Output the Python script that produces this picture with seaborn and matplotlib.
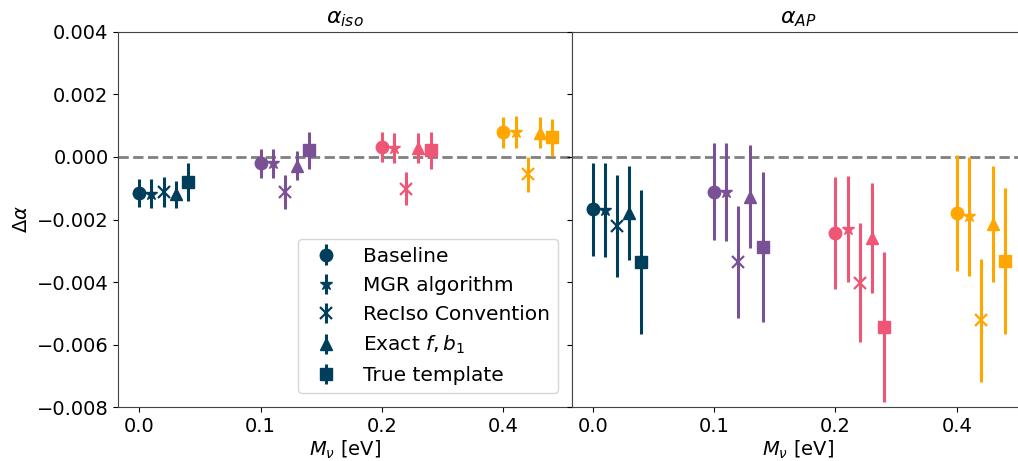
import numpy as np
import matplotlib
matplotlib.use("Agg")
import matplotlib.pyplot as plt
import seaborn as sns

# neutrino masses (tick labels) and the methods compared
masses = ["0.0", "0.1", "0.2", "0.4"]
methods = ["Baseline", "MGR algorithm", "RecIso Convention", r"Exact $f, b_1$", "True template"]
markers = ["o", "*", "x", "^", "s"]
colors = ["#003f5c", "#7a5195", "#ef5675", "#ffa600"]

# alpha_iso shifts (rows: methods, cols: masses)
iso_baseline = [-0.00115, -0.00021, 0.00031, 0.00079]
iso_mgr = [-0.00117, -0.00021, 0.00029, 0.00080]
iso_reciso = [-0.00113, -0.00112, -0.00101, -0.00056]
iso_exact = [-0.00120, -0.00028, 0.00029, 0.00077]
iso_true = [-0.00080, 0.00021, 0.00021, 0.00062]

iso_err_baseline = [0.00045, 0.00047, 0.00048, 0.00050]
iso_err_mgr = [0.00045, 0.00046, 0.00048, 0.00050]
iso_err_reciso = [0.00048, 0.00053, 0.00054, 0.00056]
iso_err_exact = [0.00042, 0.00047, 0.00048, 0.00050]
iso_err_true = [0.00060, 0.00060, 0.00060, 0.00060]

# alpha_AP shifts
ap_baseline = [-0.00168, -0.00111, -0.00243, -0.00180]
ap_mgr = [-0.00171, -0.00113, -0.00230, -0.00190]
ap_reciso = [-0.00221, -0.00336, -0.00402, -0.00522]
ap_exact = [-0.00179, -0.00127, -0.00259, -0.00215]
ap_true = [-0.00336, -0.00288, -0.00544, -0.00333]

ap_err_baseline = [0.00150, 0.00156, 0.00180, 0.00185]
ap_err_mgr = [0.00150, 0.00157, 0.00170, 0.00190]
ap_err_reciso = [0.00164, 0.00178, 0.00190, 0.00197]
ap_err_exact = [0.00150, 0.00164, 0.00175, 0.00185]
ap_err_true = [0.00230, 0.00240, 0.00240, 0.00234]

iso_vals = [iso_baseline, iso_mgr, iso_reciso, iso_exact, iso_true]
iso_errs = [iso_err_baseline, iso_err_mgr, iso_err_reciso, iso_err_exact, iso_err_true]
ap_vals = [ap_baseline, ap_mgr, ap_reciso, ap_exact, ap_true]
ap_errs = [ap_err_baseline, ap_err_mgr, ap_err_reciso, ap_err_exact, ap_err_true]

sns.set_style("ticks")
plt.rcParams["font.family"] = ["DejaVu Sans"]
plt.rcParams["font.size"] = 14
plt.rcParams["text.color"] = "black"
plt.rcParams["axes.labelcolor"] = "black"
plt.rcParams["xtick.color"] = "black"
plt.rcParams["ytick.color"] = "black"

fig = plt.figure(figsize=(10.18, 4.61), dpi=100)
W = 453.4 / 1018
bottom = 1 - 407.3 / 461
height = (407.3 - 31.7) / 461
ax1 = fig.add_axes([118.3 / 1018, bottom, W, height])
ax2 = fig.add_axes([571.7 / 1018, bottom, W, height], sharey=ax1)

pos = np.arange(len(masses)) * 0.1
sizes = {"o": 9, "*": 9, "x": 9, "^": 9, "s": 8.5}
for ax, vals, errs, title in [(ax1, iso_vals, iso_errs, r"$\alpha_{iso}$"),
                              (ax2, ap_vals, ap_errs, r"$\alpha_{AP}$")]:
    ax.axhline(0, color="grey", ls="--", lw=2, zorder=1)
    for j, (v, e, m) in enumerate(zip(vals, errs, markers)):
        for i in range(len(masses)):
            ax.errorbar(pos[i] + 0.01 * j, v[i], yerr=e[i], fmt=m, color=colors[i],
                        ms=sizes[m], mew=1.6 if m == "x" else 1,
                        elinewidth=2.2, capsize=0,
                        label=methods[j] if i == 0 else None)
    ax.set_xticks(pos)
    ax.set_xticklabels(masses)
    ax.set_xlim(-0.0173, 0.3563)
    ax.set_xlabel(r"$M_\nu$ [eV]", labelpad=2)
    ax.set_title(title, fontsize=16)
    ax.tick_params(labelsize=14)
    for s in ax.spines.values():
        s.set_color("#444444")

ax1.set_ylim(-0.008, 0.004)
ax1.set_yticks(np.arange(-0.008, 0.0041, 0.002))
ax1.set_ylabel(r"$\Delta\alpha$")
plt.setp(ax2.get_yticklabels(), visible=False)
ax1.legend(loc="lower right", fontsize=14.5, frameon=True, handletextpad=0.8,
           borderaxespad=0.7)

fig.savefig("out.png", dpi=100)
